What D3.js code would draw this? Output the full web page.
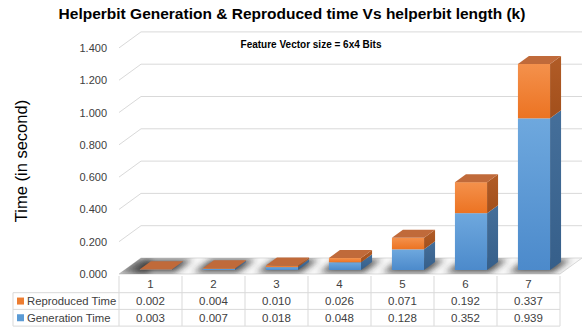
<!DOCTYPE html>
<html>
<head>
<meta charset="utf-8">
<script src="https://cdn.jsdelivr.net/npm/d3@7"></script>
<style>
  html, body { margin: 0; padding: 0; background: #fff; }
  svg { display: block; font-family: "Liberation Sans", Arial, sans-serif; }
</style>
</head>
<body>
<svg id="chart" width="584" height="335"></svg>
<script>
// Helperbit length k
const categories = ["1", "2", "3", "4", "5", "6", "7"];
// Time in seconds per series
const reproducedTime = [0.002, 0.004, 0.010, 0.026, 0.071, 0.192, 0.337];
const generationTime = [0.003, 0.007, 0.018, 0.048, 0.128, 0.352, 0.939];
const yTicks = [0, 0.2, 0.4, 0.6, 0.8, 1.0, 1.2, 1.4];
const seriesNames = ["Reproduced Time", "Generation Time"];

const svg = d3.select("#chart");
const fmt = d3.format(".3f");

// Oblique 3D projection: depth 0 is the front plane, depth 1 the back wall
const DX = 22, DY = -16;
const x = d3.scaleBand().domain(categories).range([119, 560])
  .paddingInner(0.49).paddingOuter(0.245);
const y = d3.scaleLinear().domain([0, 1.4]).range([274, 47.9]);
const P = (px, py, d) => [px + DX * d, py + DY * d];

const defs = svg.append("defs");
function grad(id, stops) {
  const g = defs.append("linearGradient").attr("id", id)
    .attr("x1", 0).attr("y1", 0).attr("x2", 0).attr("y2", 1);
  stops.forEach(([o, c]) => g.append("stop").attr("offset", o).attr("stop-color", c));
}
grad("gOrange", [[0, "#F4914C"], [1, "#EC7322"]]);
grad("gBlue", [[0, "#6EA8DE"], [1, "#4C8ACB"]]);
grad("gOrangeSide", [[0, "#B15C27"], [1, "#A24F1B"]]);
grad("gBlueSide", [[0, "#456F9A"], [1, "#365F8A"]]);
defs.append("filter").attr("id", "soft").attr("x", "-50%").attr("y", "-50%")
  .attr("width", "200%").attr("height", "200%")
  .append("feGaussianBlur").attr("stdDeviation", 3);

// Title
svg.append("text").attr("x", 292).attr("y", 19).attr("text-anchor", "middle")
  .attr("font-size", 15.5).attr("font-weight", "bold").attr("fill", "#000")
  .text("Helperbit Generation & Reproduced time Vs helperbit length (k)");

// Axis title
svg.append("text").attr("transform", "translate(27,161) rotate(-90)")
  .attr("text-anchor", "middle").attr("font-size", 16.5).attr("fill", "#000")
  .text("Time (in second)");

// Back wall and side wall gridlines
const x0 = x.range()[0], x1 = x.range()[1];
const grid = svg.append("g").attr("stroke", "#d9d9d9").attr("fill", "none").attr("stroke-width", 1);
yTicks.filter(v => v > 0).forEach(v => {
  const a = P(x0, y(v), 0), b = P(x0, y(v), 1), c = P(x1, y(v), 1);
  grid.append("polyline").attr("points", [a, b, c].map(p => p.join(",")).join(" "));
});

// Floor
const floorPts = [P(x0, y(0), 0), P(x1, y(0), 0), P(x1, y(0), 1), P(x0, y(0), 1)];
defs.append("clipPath").attr("id", "floorClip").append("polygon")
  .attr("points", floorPts.map(p => p.join(",")).join(" "));
svg.append("polygon").attr("points", floorPts.map(p => p.join(",")).join(" "))
  .attr("fill", "#f7f7f7").attr("stroke", "#d9d9d9");
// Soft shadows cast on the floor around each column
const shadows = svg.append("g").attr("clip-path", "url(#floorClip)");
shadows.append("polygon")
  .attr("points", [P(x0 - 4, y(0), 0), P(x0 + 30, y(0), 0), P(x0 + 10, y(0), 1), P(x0 - 4, y(0), 1)].map(p => p.join(",")).join(" "))
  .attr("fill", "#444").attr("opacity", 0.7).attr("filter", "url(#soft)");
categories.forEach(c => {
  const bx = x(c), bw = x.bandwidth();
  const pts = [P(bx - 6, y(0), 0.1), P(bx + bw + 6, y(0), 0.1), P(bx + bw + 6, y(0), 0.9), P(bx - 6, y(0), 0.9)];
  shadows.append("polygon").attr("points", pts.map(p => p.join(",")).join(" "))
    .attr("fill", "#2a2a2a").attr("opacity", 0.8).attr("filter", "url(#soft)");
});

// Y tick labels
svg.append("g").selectAll("text").data(yTicks).join("text")
  .attr("x", 107).attr("y", d => y(d) + 4).attr("text-anchor", "end")
  .attr("font-size", 11).attr("fill", "#404040").text(d => fmt(d));

// Annotation
svg.append("text").attr("x", 311).attr("y", 48).attr("text-anchor", "middle")
  .attr("font-size", 10).attr("font-weight", "bold").attr("fill", "#000")
  .text("Feature Vector size = 6x4 Bits");

// Stacked 3D columns: Generation Time at the base, Reproduced Time on top
const stacks = categories.map((c, i) => [
  { lo: 0, hi: generationTime[i], front: "url(#gBlue)", side: "url(#gBlueSide)", top: "#5A8CC0" },
  { lo: generationTime[i], hi: generationTime[i] + reproducedTime[i], front: "url(#gOrange)", side: "url(#gOrangeSide)", top: "#C06A3A" }
]);
const bars = svg.append("g");
categories.forEach((c, i) => {
  const bx = x(c), bw = x.bandwidth();
  const d0 = 0.25, d1 = 0.75;
  stacks[i].forEach((s, k) => {
    const yl = y(s.lo), yh = y(s.hi);
    const fl = P(bx, yh, d0);
    // front face
    bars.append("rect").attr("x", fl[0]).attr("y", fl[1])
      .attr("width", bw).attr("height", Math.max(0, yl - yh)).attr("fill", s.front);
    // right side face
    const side = [P(bx + bw, yh, d0), P(bx + bw, yh, d1), P(bx + bw, yl, d1), P(bx + bw, yl, d0)];
    bars.append("polygon").attr("points", side.map(p => p.join(",")).join(" ")).attr("fill", s.side);
    // top face on the uppermost segment
    if (k === stacks[i].length - 1) {
      const top = [P(bx, yh, d0), P(bx + bw, yh, d0), P(bx + bw, yh, d1), P(bx, yh, d1)];
      bars.append("polygon").attr("points", top.map(p => p.join(",")).join(" ")).attr("fill", s.top);
    }
  });
});

// Data table
const tableTop = 276, rowH = 16.7, labelLeft = 13;
const table = svg.append("g");
const colStep = x.step();
const colX = i => x0 + i * colStep;
const lineColor = "#d9d9d9";
// vertical column lines
for (let i = 0; i <= categories.length; i++) {
  table.append("line").attr("x1", colX(i)).attr("x2", colX(i))
    .attr("y1", tableTop).attr("y2", tableTop + 3 * rowH).attr("stroke", lineColor);
}
table.append("line").attr("x1", labelLeft).attr("x2", labelLeft)
  .attr("y1", tableTop + rowH).attr("y2", tableTop + 3 * rowH).attr("stroke", lineColor);
for (let r = 1; r <= 3; r++) {
  table.append("line").attr("x1", labelLeft).attr("x2", x1)
    .attr("y1", tableTop + r * rowH).attr("y2", tableTop + r * rowH).attr("stroke", lineColor);
}
// header row
table.selectAll("text.hdr").data(categories).join("text").attr("class", "hdr")
  .attr("x", (d, i) => colX(i) + colStep / 2).attr("y", tableTop + rowH / 2 + 4)
  .attr("text-anchor", "middle").attr("font-size", 11.5).attr("fill", "#404040").text(d => d);
const rows = [
  { name: seriesNames[0], color: "#ED7D31", values: reproducedTime },
  { name: seriesNames[1], color: "#5B9BD5", values: generationTime }
];
rows.forEach((row, r) => {
  const cy = tableTop + (r + 1) * rowH + rowH / 2;
  table.append("rect").attr("x", 17).attr("y", cy - 3.5).attr("width", 7).attr("height", 7).attr("fill", row.color);
  table.append("text").attr("x", 27).attr("y", cy + 4).attr("font-size", 11.3)
    .attr("fill", "#404040").text(row.name);
  table.selectAll(null).data(row.values).join("text")
    .attr("x", (d, i) => colX(i) + colStep / 2).attr("y", cy + 4)
    .attr("text-anchor", "middle").attr("font-size", 11.5).attr("fill", "#404040").text(d => fmt(d));
});
</script>
</body>
</html>
